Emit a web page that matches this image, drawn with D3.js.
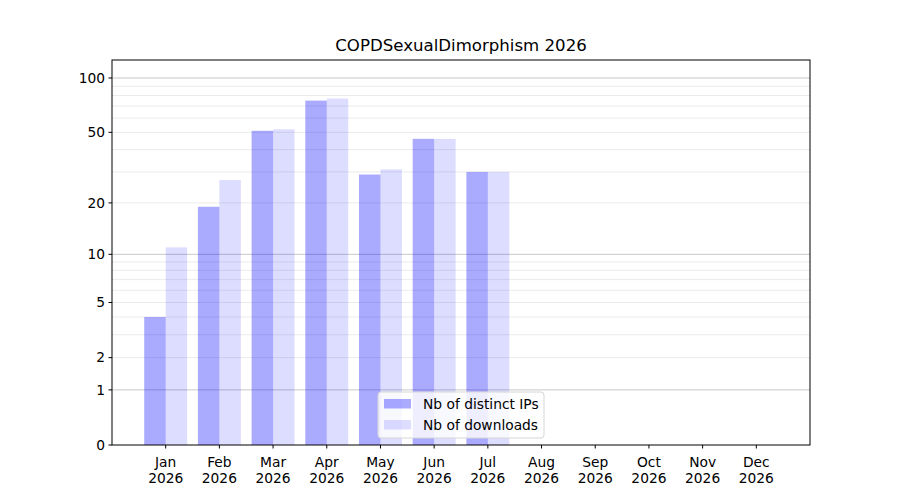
<!DOCTYPE html>
<html>
<head>
<meta charset="utf-8">
<script src="https://cdn.jsdelivr.net/npm/d3@7"></script>
<style>
  body { margin: 0; background: #fff; }
  svg { font-family: "DejaVu Sans", sans-serif; }
</style>
</head>
<body>
<div id="chart"></div>
<script>
const months = ['Jan', 'Feb', 'Mar', 'Apr', 'May', 'Jun', 'Jul', 'Aug', 'Sep', 'Oct', 'Nov', 'Dec'];
const year = '2026';
const distinctIPs = [4, 19, 51, 75, 29, 46, 30, 0, 0, 0, 0, 0];
const downloads = [11, 27, 52, 77, 31, 46, 30, 0, 0, 0, 0, 0];
const yTicks = [0, 1, 2, 5, 10, 20, 50, 100];
const yMajorGrid = [1, 10, 100];
const yMinorGrid = [2, 3, 4, 5, 6, 7, 8, 9, 20, 30, 40, 50, 60, 70, 80, 90];
const title = 'COPDSexualDimorphism 2026';
const seriesNames = ['Nb of distinct IPs', 'Nb of downloads'];

const width = 900, height = 500;
const margin = { left: 112, right: 90, top: 60, bottom: 55 };
const x0 = margin.left, x1 = width - margin.right;
const y0 = height - margin.bottom, y1 = margin.top;
const fs = '13.8px';

const svg = d3.select('#chart').append('svg')
    .attr('width', width)
    .attr('height', height);

// x: month index 1..12, limits 0..13
const x = d3.scaleLinear().domain([0, 13]).range([x0, x1]);
// y: log10(1 + v)
const yLin = d3.scaleLinear().domain([0, 2.1026]).range([y0, y1]);
const y = v => yLin(Math.log10(1 + v));

// grid
svg.append('g').selectAll('line')
    .data(yMinorGrid)
    .enter().append('line')
    .attr('x1', x0).attr('x2', x1)
    .attr('y1', d => y(d)).attr('y2', d => y(d))
    .attr('stroke', '#ebebeb')
    .attr('stroke-width', 1);

svg.append('g').selectAll('line')
    .data(yMajorGrid)
    .enter().append('line')
    .attr('x1', x0).attr('x2', x1)
    .attr('y1', d => y(d)).attr('y2', d => y(d))
    .attr('stroke', '#c8c8c8')
    .attr('stroke-width', 1);

// bars
const bw = x(0.4) - x(0);
const series = [
    { values: distinctIPs, offset: -0.2, opacity: 0.333 },
    { values: downloads, offset: 0.2, opacity: 0.133 }
];
series.forEach(s => {
    svg.append('g').selectAll('rect')
        .data(s.values)
        .enter().append('rect')
        .attr('x', (d, i) => x(i + 1 + s.offset) - bw / 2)
        .attr('width', bw)
        .attr('y', d => y(d))
        .attr('height', d => y0 - y(d))
        .attr('fill', 'blue')
        .attr('fill-opacity', s.opacity);
});

// axes frame
svg.append('rect')
    .attr('x', x0).attr('y', y1)
    .attr('width', x1 - x0).attr('height', y0 - y1)
    .attr('fill', 'none')
    .attr('stroke', '#000')
    .attr('stroke-width', 1);

// y ticks
const yt = svg.append('g');
yt.selectAll('line')
    .data(yTicks)
    .enter().append('line')
    .attr('x1', x0 - 3.5).attr('x2', x0)
    .attr('y1', d => y(d)).attr('y2', d => y(d))
    .attr('stroke', '#000');
yt.selectAll('text')
    .data(yTicks)
    .enter().append('text')
    .attr('x', x0 - 7)
    .attr('y', d => y(d))
    .attr('dy', '0.35em')
    .attr('text-anchor', 'end')
    .attr('font-size', fs)
    .text(d => d);

// x ticks
const xt = svg.append('g');
xt.selectAll('line')
    .data(months)
    .enter().append('line')
    .attr('x1', (d, i) => x(i + 1)).attr('x2', (d, i) => x(i + 1))
    .attr('y1', y0).attr('y2', y0 + 3.5)
    .attr('stroke', '#000');
const xl = xt.selectAll('text')
    .data(months)
    .enter().append('text')
    .attr('text-anchor', 'middle')
    .attr('font-size', fs);
xl.append('tspan')
    .attr('x', (d, i) => x(i + 1))
    .attr('y', y0 + 21.5)
    .text(d => d);
xl.append('tspan')
    .attr('x', (d, i) => x(i + 1))
    .attr('y', y0 + 37.5)
    .text(year);

// title
svg.append('text')
    .attr('x', (x0 + x1) / 2)
    .attr('y', 51)
    .attr('text-anchor', 'middle')
    .attr('font-size', '16.6px')
    .text(title);

// legend
const lw = 166, lh = 46;
const lx = (x0 + x1) / 2 - lw / 2, ly = y0 - 7 - lh;
const legend = svg.append('g');
legend.append('rect')
    .attr('x', lx).attr('y', ly)
    .attr('width', lw).attr('height', lh)
    .attr('rx', 3)
    .attr('fill', '#fff')
    .attr('fill-opacity', 0.8)
    .attr('stroke', '#d6d6d6');
seriesNames.forEach((name, i) => {
    const cy = ly + 12 + i * 21;
    legend.append('rect')
        .attr('x', lx + 6).attr('y', cy - 5)
        .attr('width', 27).attr('height', 9.5)
        .attr('fill', 'blue')
        .attr('fill-opacity', series[i].opacity);
    legend.append('text')
        .attr('x', lx + 45).attr('y', cy)
        .attr('dy', '0.35em')
        .attr('font-size', fs)
        .text(name);
});
</script>
</body>
</html>
